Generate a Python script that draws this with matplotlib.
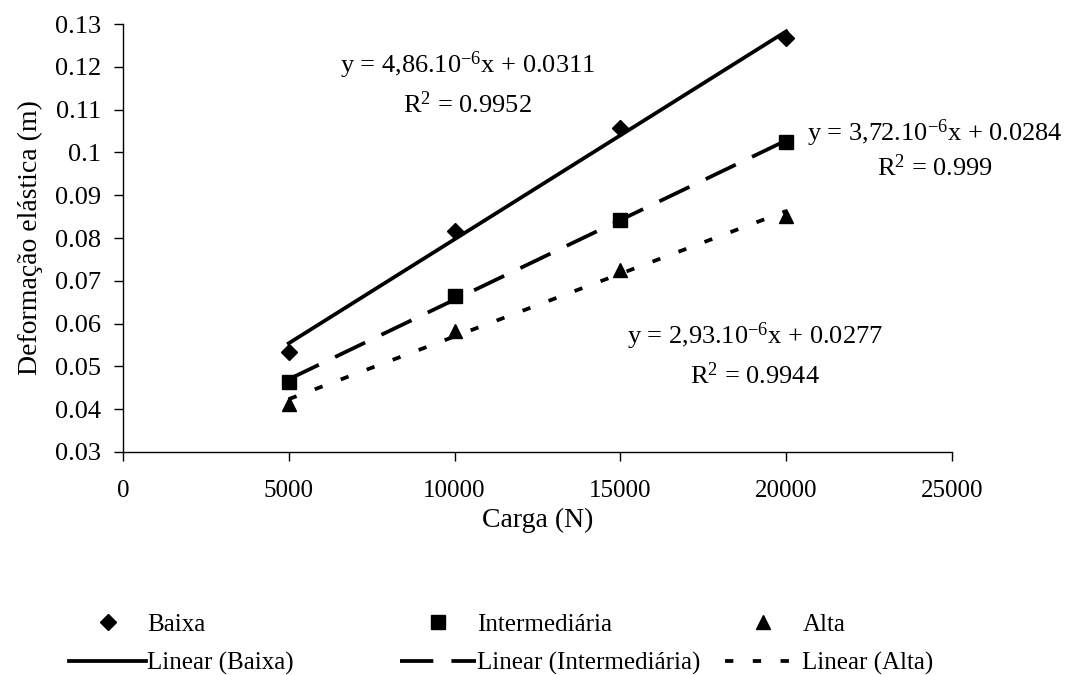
import matplotlib
matplotlib.use("Agg")
import matplotlib.pyplot as plt
import numpy as np

plt.rcParams['font.family'] = ['Liberation Serif', 'DejaVu Serif']
plt.rcParams['mathtext.fontset'] = 'custom'
plt.rcParams['mathtext.rm'] = 'Liberation Serif'
plt.rcParams['mathtext.it'] = 'Liberation Serif:italic'
plt.rcParams['lines.scale_dashes'] = False

# data
carga = [5000, 10000, 15000, 20000]
baixa = [0.0534, 0.0817, 0.1058, 0.1267]
intermediaria = [0.0463, 0.0665, 0.0843, 0.1025]
alta = [0.0413, 0.0582, 0.0725, 0.0851]

# trendline coefficients as printed on the chart
slopes = [4.86e-6, 3.72e-6, 2.93e-6]
intercepts = [0.0311, 0.0284, 0.0277]
eq_labels = ["y = 4,86.10$^{-6}$x + 0.0311",
             "y = 3,72.10$^{-6}$x + 0.0284",
             "y = 2,93.10$^{-6}$x + 0.0277"]
r2_labels = ["R$^{2}$ = 0.9952", "R$^{2}$ = 0.999", "R$^{2}$ = 0.9944"]

names = ["Baixa", "Intermediária", "Alta"]
xticks = [0, 5000, 10000, 15000, 20000, 25000]
yticks = [0.03, 0.04, 0.05, 0.06, 0.07, 0.08, 0.09, 0.1, 0.11, 0.12, 0.13]
ytick_labels = ["0.03", "0.04", "0.05", "0.06", "0.07", "0.08", "0.09",
                "0.1", "0.11", "0.12", "0.13"]

FS = 18
fig = plt.figure(figsize=(10.69, 6.75), dpi=100)
ax = fig.add_axes([0.115, 0.3304, 0.7756, 0.634])

markers = ["D", "s", "^"]
msizes = [8, 10, 10]
styles = ["-", (0, (24, 13)), (0, (6, 14))]
series = [baixa, intermediaria, alta]

pt_handles = []
ln_handles = []
for i, ys in enumerate(series):
    p, = ax.plot(carga, ys, linestyle="none", marker=markers[i],
                 markersize=msizes[i], color="black")
    xs = np.array([carga[0], carga[-1]], dtype=float)
    l, = ax.plot(xs, slopes[i] * xs + intercepts[i], linestyle=styles[i],
                 color="black", linewidth=2.7, dash_capstyle="butt")
    pt_handles.append(p)
    ln_handles.append(l)

# equation labels
eq_pos = [(10400, 0.1204, 0.1112), (24490, 0.1045, 0.0964), (19060, 0.0571, 0.0478)]
for i, (x, y1, y2) in enumerate(eq_pos):
    ax.text(x, y1, eq_labels[i], ha="center", va="center", fontsize=19)
    ax.text(x, y2, r2_labels[i], ha="center", va="center", fontsize=19)

ax.set_xlim(0, 25000)
ax.set_ylim(0.03, 0.13)
ax.set_xticks(xticks)
ax.set_xticklabels([str(v) for v in xticks])
ax.set_yticks(yticks)
ax.set_yticklabels(ytick_labels)
ax.tick_params(axis="both", direction="out", length=6.5, width=1)
ax.tick_params(axis="x", labelsize=18, pad=14)
ax.tick_params(axis="y", labelsize=19, pad=9)
for s in ("top", "right"):
    ax.spines[s].set_visible(False)
for s in ("left", "bottom"):
    ax.spines[s].set_linewidth(1)

ax.set_xlabel("Carga (N)", fontsize=20, labelpad=4)
ax.set_ylabel("Deformação elástica (m)", fontsize=20, labelpad=9)

# legend: three columns, markers on top row and trendlines below
col_x = [0.065, 0.374, 0.678]
for i in range(3):
    fig.legend([pt_handles[i], ln_handles[i]], [names[i], "Linear (%s)" % names[i]],
               loc="lower left", bbox_to_anchor=(col_x[i], 0.0), frameon=False,
               fontsize=FS, handlelength=3.05, handletextpad=0.05,
               labelspacing=0.63, borderpad=0.0, borderaxespad=0.0)

fig.savefig("out.png", dpi=100)
